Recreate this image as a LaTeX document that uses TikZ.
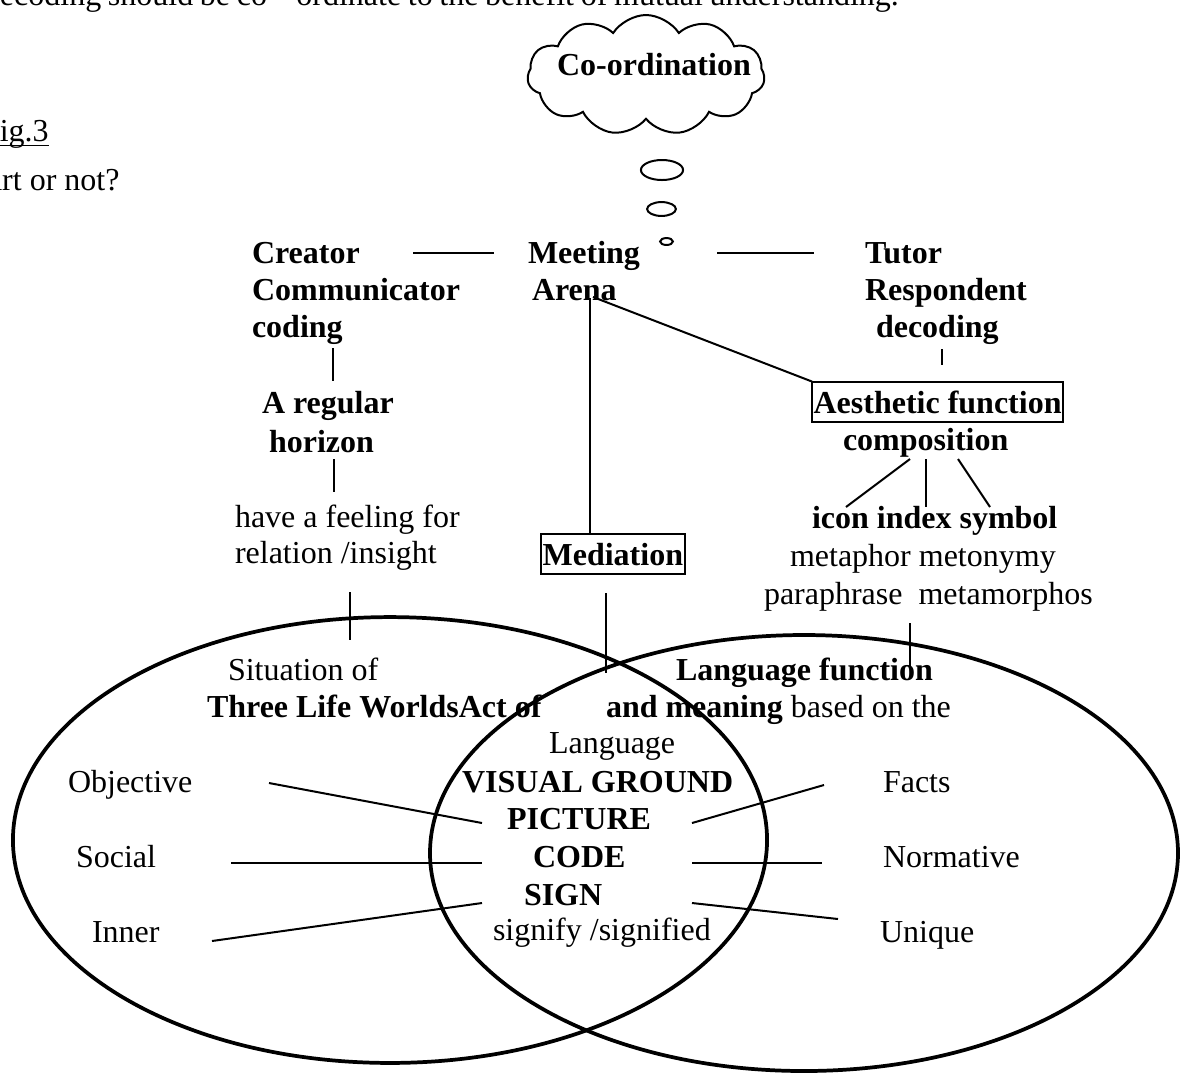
\documentclass[tikz,border=0pt]{standalone}
\usepackage{fontspec}
\setmainfont{Liberation Serif}
\usetikzlibrary{shapes.symbols}
\begin{document}
\begin{tikzpicture}[x=0.375pt,y=-0.375pt,
  txt/.style={inner sep=0pt,outer sep=0pt,anchor=base west,font=\fontsize{12}{13.9}\selectfont},
  bold/.style={txt,font=\fontsize{12}{13.9}\selectfont\bfseries},
  boxed/.style={bold,draw,line width=0.75pt,inner sep=0.6pt,text height=11.2pt,text depth=2.9pt},
  link/.style={line width=0.75pt},
  ring/.style={line width=1.4pt},
  bubble/.style={line width=0.75pt}]
\useasboundingbox (0,0) rectangle (1183,1074);
\clip (0,0) rectangle (1183,1074);

% running text of the page around the figure
\node[txt] (topline) at (-16,5) {\spaceskip=2.5pt\relax decoding should be co -- ordinate to the benefit of mutual understanding.};
\node[txt] (fig) at (-18,141) {Fig.3};
\draw[line width=0.5pt] ([yshift=-1.6pt]fig.base west) -- ([yshift=-1.6pt]fig.base east);
\node[txt] (artq) at (-12,190) {art or not?};

% the two overlapping life-world ellipses
\draw[ring] (390,840) ellipse [x radius=141.4pt, y radius=83.6pt];
\draw[ring] (804,853) ellipse [x radius=140.25pt, y radius=81.75pt];

% thought cloud with its trail of bubbles
\node[cloud,draw,line width=0.75pt,cloud puffs=11,cloud puff arc=115,cloud ignores aspect,
      minimum width=89pt,minimum height=45pt,inner sep=0pt] (cloud) at (646,75) {};
\node[bold] (coord) at (557,75) {Co-ordination};
\draw[bubble] (662,170) ellipse [x radius=7.9pt, y radius=3.75pt];
\draw[bubble] (661.5,209) ellipse [x radius=5.4pt, y radius=2.6pt];
\draw[bubble] (666.5,241.5) ellipse [x radius=2.4pt, y radius=1.3pt];

% first row
\node[bold] (creator) at (252,263) {Creator};
\node[bold] (communicator) at (252,300) {Communicator};
\node[bold] (coding) at (252,337) {coding};
\node[bold] (meeting) at (528,263) {Meeting};
\node[bold] (arena) at (532,300) {Arena};
\node[bold] (tutor) at (865,263) {Tutor};
\node[bold] (respondent) at (865,300) {Respondent};
\node[bold] (decoding) at (876,337) {decoding};

\coordinate (cm1) at (413,253); \coordinate (cm2) at (494,253);
\coordinate (mt1) at (717,253); \coordinate (mt2) at (814,253);
\draw[link] (cm1) -- (cm2);
\draw[link] (mt1) -- (mt2);

% left branch
\node[bold] (regular) at (262,413) {A regular};
\node[bold] (horizon) at (269,452) {horizon};
\node[txt] (feeling) at (235,527) {have a feeling for};
\node[txt] (insight) at (235,563) {relation /insight};
\coordinate (t1a) at (333,348); \coordinate (t1b) at (333,381);
\coordinate (t2a) at (334,459); \coordinate (t2b) at (334,492);
\coordinate (t3a) at (350,592); \coordinate (t3b) at (350,640);
\draw[link] (t1a) -- (t1b);
\draw[link] (t2a) -- (t2b);
\draw[link] (t3a) -- (t3b);

% middle branch
\node[boxed] (mediation) at (541,565) {Mediation};
\coordinate (ar1) at (590,298);
\coordinate (ar2) at (593,297);
\draw[link] (ar1) -- (ar1 |- mediation.north);
\coordinate (md1) at (606,593); \coordinate (md2) at (606,673);
\draw[link] (md1) -- (md2);

% right branch
\node[boxed] (aesthetic) at (812,413) {Aesthetic function};
\node[bold] (composition) at (843,450) {composition};
\node[bold] (icon) at (812,528) {icon index symbol};
\node[txt] (metaphor) at (790,566) {metaphor metonymy};
\node[txt] (paraphrase) at (764,604) {paraphrase\ \ metamorphos};
\draw[link] (ar2) -- (aesthetic.north west);
\coordinate (dc1) at (942,349); \coordinate (dc2) at (942,365);
\draw[link] (dc1) -- (dc2);
\coordinate (cp1) at (910,459); \coordinate (ic1) at (846,507);
\coordinate (cp2) at (926,459); \coordinate (ic2) at (926,507);
\coordinate (cp3) at (958,459); \coordinate (ic3) at (990,507);
\draw[link] (cp1) -- (ic1);
\draw[link] (cp2) -- (ic2);
\draw[link] (cp3) -- (ic3);
\coordinate (pp1) at (910,623); \coordinate (pp2) at (910,668);
\draw[link] (pp1) -- (pp2);

% texts inside the ellipses
\node[txt] (situation) at (228,680) {Situation of};
\node[bold] (worlds) at (207,717) {Three Life WorldsAct of};
\node[bold] (langfn) at (676,680) {Language function};
\node[txt] (meaning) at (606,717) {\bfseries and meaning\mdseries{} based on the};
\node[txt] (language) at (549,753) {Language};
\node[bold] (visual) at (462,792) {VISUAL GROUND};
\node[bold] (picture) at (507,829) {PICTURE};
\node[bold] (code) at (533,867) {CODE};
\node[bold] (sign) at (524,905) {SIGN};
\node[txt] (signify) at (493,940) {signify /signified};

\node[txt] (objective) at (68,792) {Objective};
\node[txt] (social) at (76,867) {Social};
\node[txt] (inner) at (92,942) {Inner};
\node[txt] (facts) at (883,792) {Facts};
\node[txt] (normative) at (883,867) {Normative};
\node[txt] (unique) at (880,942) {Unique};

\coordinate (ob) at (269,783); \coordinate (pl) at (482,823);
\coordinate (so) at (231,863); \coordinate (cl) at (482,863);
\coordinate (in) at (212,941); \coordinate (sl) at (482,903);
\coordinate (fa) at (824,785); \coordinate (pr) at (692,823);
\coordinate (no) at (822,863); \coordinate (cr) at (692,863);
\coordinate (un) at (838,919); \coordinate (sr) at (692,903);
\draw[link] (ob) -- (pl);
\draw[link] (so) -- (cl);
\draw[link] (in) -- (sl);
\draw[link] (pr) -- (fa);
\draw[link] (cr) -- (no);
\draw[link] (sr) -- (un);
\end{tikzpicture}
\end{document}
